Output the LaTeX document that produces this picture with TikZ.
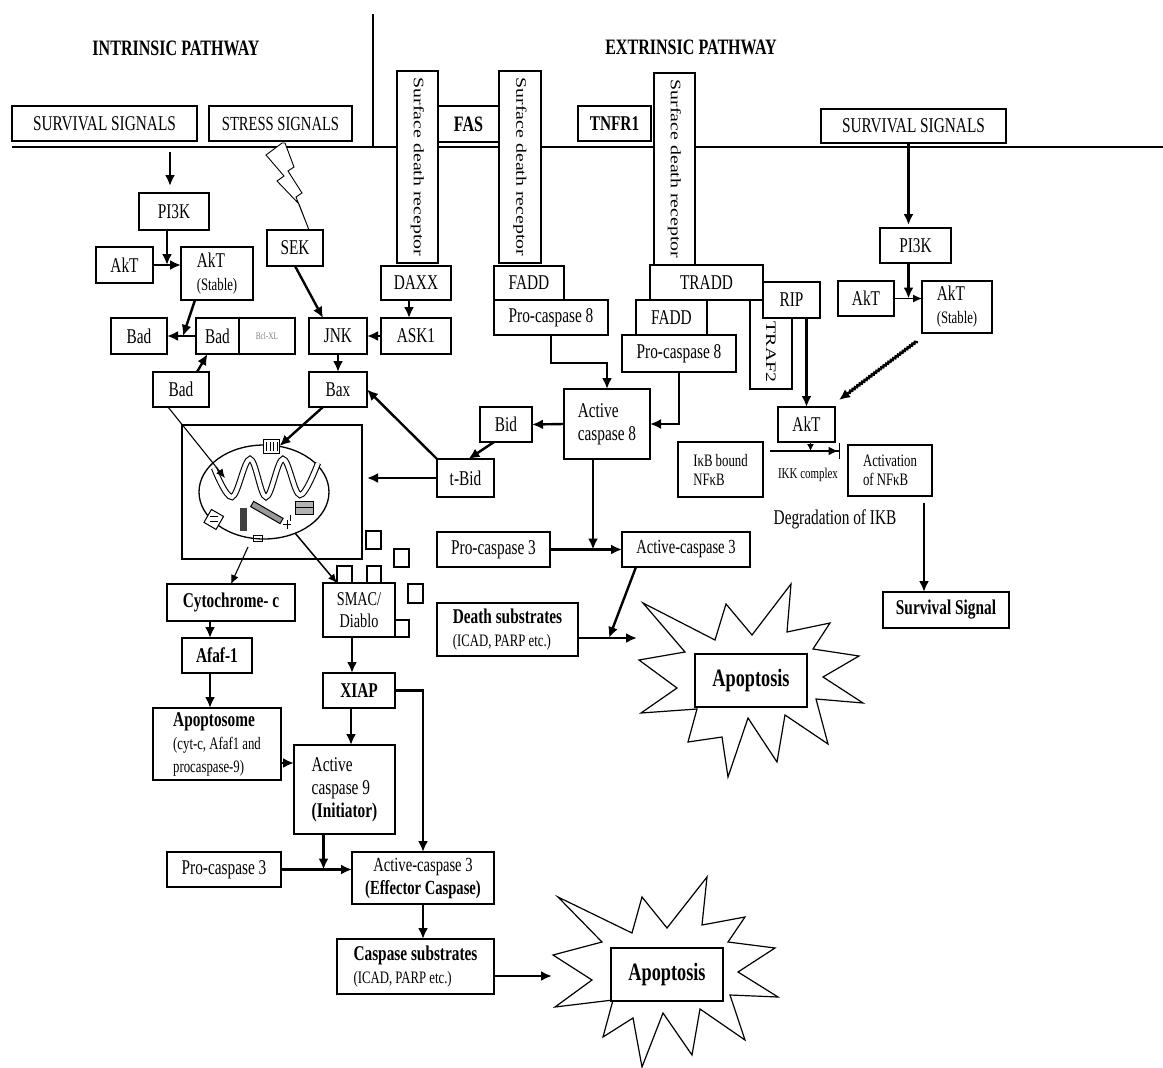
\documentclass[tikz,border=0pt]{standalone}
\usepackage{fontspec}
\setmainfont{Liberation Serif}[FakeStretch=0.73]
\newfontfamily\rotfont{Liberation Serif}[FakeStretch=1.37]
\usetikzlibrary{arrows.meta,fit,decorations.pathmorphing}
\newcommand\fN{\fontsize{21}{23}\selectfont}
\newcommand\fS{\fontsize{17.5}{19}\selectfont}
\newcommand\mybox[7][]{\node[bx,#1,minimum width={(#5)-(#3)}, minimum height={(#6)-(#4)}] (#2) at ({((#3)+(#5))/2},{((#4)+(#6))/2}) {#7};}
\begin{document}
\begin{tikzpicture}[x=1pt,y=-1pt,
  bx/.style={draw, line width=1.4pt, inner sep=0pt, outer sep=0pt, fill=white, align=center, font=\fN},
  rot/.style={rotate=-90, inner sep=0pt, font=\rotfont\fontsize{14.5}{16}\selectfont},
  arr/.style={line width=2.4pt, -{Latex[length=11pt,width=10pt]}},
  tarr/.style={line width=1.1pt, -{Latex[length=9pt,width=8pt]}},
  sarr/.style={line width=1.2pt, -{Latex[length=7pt,width=7pt]}},
  ikkarr/.style={line width=2.4pt, -{Latex[length=10pt,width=9pt]Bar[width=16pt,line width=1.5pt]}},
  burst/.style={line width=1.2pt, fill=white},
  title/.style={font=\fontsize{22}{24}\selectfont\bfseries},
]
\fill[white] (0,0) rectangle (1163,1068);
\useasboundingbox (0,0) rectangle (1163,1068);

% titles and membrane
\node[title] (intr) at (176,48) {INTRINSIC PATHWAY};
\node[title] (extr) at (691,47) {EXTRINSIC PATHWAY};
\draw[line width=2.2pt] (373,14) -- (373,147);
\draw[line width=1.6pt] (12,147) -- (1163,147);

% top boxes
\mybox{ssL}{12}{106}{197}{141}{SURVIVAL SIGNALS}
\mybox[font=\fontsize{20}{22}\selectfont]{stress}{209}{106}{352}{141}{STRESS SIGNALS}
\mybox[font=\fontsize{22}{24}\selectfont\bfseries]{fas}{438}{106}{499}{142}{FAS}
\mybox[font=\fontsize{21}{23}\selectfont\bfseries]{tnfr}{578}{106}{651}{141}{TNFR1}
\mybox{rec1}{397}{71}{438}{263}{}
\node[rot] (rec1t) at (rec1.center) {Surface death receptor};
\mybox{rec2}{499}{71}{541}{263}{}
\node[rot] (rec2t) at (rec2.center) {Surface death receptor};
\mybox{rec3}{654}{73}{695}{265}{}
\node[rot] (rec3t) at (rec3.center) {Surface death receptor};
\mybox{ssR}{821}{109}{1006}{143}{SURVIVAL SIGNALS}

% lightning
\draw[line width=0.9pt, fill=white] (282,143) -- (266,155) -- (284,176) -- (277,181) -- (299,204) -- (309,230)
  -- (296,197) -- (302,193) -- (288,171) -- (294,167) -- (285,143) -- cycle;

% intrinsic upper
\mybox{pi3kL}{139}{193}{209}{230}{PI3K}
\mybox{aktL}{96}{247}{153}{283}{AkT}
\mybox[align=left]{akts}{181}{247}{253}{300}{AkT\\{\fS(Stable)}}
\mybox{badL}{111}{318}{167}{354}{Bad}
\mybox{badM}{196}{318}{239}{354}{Bad}
\mybox[font=\fontsize{10}{11}\selectfont, text=gray]{bcl}{239}{318}{295}{354}{Bcl-XL}
\mybox{badB}{153}{372}{209}{407}{Bad}
\mybox{sek}{267}{230}{323}{266}{SEK}
\mybox{jnk}{309}{318}{367}{354}{JNK}
\mybox{bax}{309}{372}{367}{407}{Bax}
\mybox{daxx}{381}{266}{451}{300}{DAXX}
\mybox{ask1}{381}{318}{451}{354}{ASK1}

% extrinsic
\mybox{fadd1}{494}{266}{564}{300}{FADD}
\mybox{pc8a}{494}{300}{608}{335}{Pro-caspase 8}
\mybox{traf2}{750}{300}{792}{389}{}
\node[rot] (traf2t) at (771,352) {TRAF2};
\mybox{tradd}{650}{265}{763}{300}{TRADD}
\mybox{rip}{763}{282}{820}{318}{RIP}
\mybox{fadd2}{636}{300}{707}{335}{FADD}
\mybox{pc8b}{622}{335}{736}{372}{Pro-caspase 8}
\mybox[align=left]{ac8}{564}{389}{650}{459}{Active\\caspase 8}
\mybox{bid}{480}{407}{532}{442}{Bid}
\mybox{tbid}{437}{459}{494}{497}{t-Bid}
\mybox{pc3a}{437}{532}{550}{567}{Pro-caspase 3}
\mybox[font=\fontsize{20}{22}\selectfont]{ac3a}{622}{532}{750}{567}{Active-caspase 3}
\mybox[align=left]{ds}{437}{603}{578}{656}{\textbf{Death substrates}\\{\fS(ICAD, PARP etc.)}}

% mitochondrion
\mybox[fill=none]{mito}{182}{425}{362}{559}{}
\draw[line width=1.3pt] (264,492) ellipse [x radius=65, y radius=47];
\draw[line width=1.1pt, double, double distance=4pt] plot[smooth, tension=0.6]
  coordinates {(214,468) (232,497) (250,459) (266,497) (283,459) (300,495) (318,463)};
\node[draw, fill=white, line width=1pt, minimum width=16pt, minimum height=14pt, inner sep=0pt] (chan) at (271,446) {};
\draw[line width=1pt] (266,442) -- (266,451) (270,442) -- (270,451) (273,442) -- (273,451) (277,442) -- (277,451);
\draw[line width=1pt, fill=white, rotate around={-30:(214,519)}] (207,512) rectangle (221,527);
\draw[line width=0.8pt] (210,516) -- (218,516) (210,521) -- (218,521);
\fill[black!75] (240,508) rectangle (247,531);
\draw[line width=1pt, fill=black!40, rotate around={-30:(266,512)}] (250,509) rectangle (284,515);
\draw[line width=1pt, fill=black!30] (295,501) rectangle (313,507);
\draw[line width=1pt, fill=black!30] (295,507) rectangle (313,514);
\draw[line width=0.9pt] (283,524) -- (291,524) (287,520) -- (287,529) (290,515) -- (290,521);
\draw[line width=0.9pt] (253,535) rectangle (262,541);

% small squares
\draw[line width=1.2pt] (366,531) rectangle (381,549);
\draw[line width=1.2pt] (394,549) rectangle (409,567);
\draw[line width=1.2pt] (337,566) rectangle (352,583);
\draw[line width=1.2pt] (367,566) rectangle (381,583);
\draw[line width=1.2pt] (408,584) rectangle (423,603);
\draw[line width=1.2pt] (394,620) rectangle (409,637);

% lower intrinsic
\mybox[font=\fontsize{21}{23}\selectfont\bfseries]{cyto}{167}{584}{295}{621}{Cytochrome- c}
\mybox[font=\fN\bfseries]{afaf}{182}{638}{252}{673}{Afaf-1}
\mybox[font=\fontsize{19.5}{22}\selectfont]{smac}{323}{583}{395}{637}{SMAC/\\Diablo}
\mybox[font=\fN\bfseries]{xiap}{323}{673}{395}{708}{XIAP}
\mybox[align=left]{apsome}{153}{708}{281}{780}{\textbf{Apoptosome}\\{\fS(cyt-c, Afaf1 and}\\{\fS procaspase-9)}}
\mybox[align=left]{ac9}{294}{745}{395}{834}{Active\\caspase 9\\\textbf{(Initiator)}}
\mybox{pc3b}{167}{852}{281}{887}{Pro-caspase 3}
\mybox[font=\fontsize{20}{23}\selectfont]{ac3b}{352}{852}{494}{904}{Active-caspase 3\\\textbf{(Effector Caspase)}}
\mybox[align=left]{csub}{337}{939}{494}{994}{\textbf{Caspase substrates}\\{\fS(ICAD, PARP etc.)}}

% right side
\mybox{pi3kR}{880}{228}{951}{263}{PI3K}
\mybox{aktR}{838}{281}{894}{316}{AkT}
\mybox[align=left]{aktsR}{922}{281}{992}{333}{AkT\\{\fS(Stable)}}
\mybox{aktLow}{778}{407}{835}{442}{AkT}
\mybox[font=\fS, align=left]{ikb}{678}{442}{763}{497}{IκB bound\\NFκB}
\mybox[font=\fS, align=left]{act}{848}{445}{932}{496}{Activation\\ of NFκB}
\node[font=\fN] (degr) at (835,519) {Degradation of IKB};
\node[font=\fontsize{15}{16}\selectfont] (ikk) at (808,475) {IKK complex};
\mybox[font=\fN\bfseries]{surv}{883}{592}{1009}{628}{Survival Signal}

% starbursts
\draw[burst] (643,603) -- (715,640) -- (726,604) -- (752,635) -- (791,584) -- (787,632) -- (830,623) -- (813,649)
  -- (859,656) -- (823,677) -- (863,703) -- (816,699) -- (828,744) -- (785,715) -- (777,762) -- (748,718)
  -- (728,777) -- (722,737) -- (688,742) -- (697,709) -- (641,713) -- (677,688) -- (639,660) -- (685,652) -- cycle;
\mybox[font=\fontsize{25}{27}\selectfont\bfseries]{apo1}{695}{654}{807}{707}{Apoptosis}
\draw[burst] (558,897) -- (632,933) -- (642,897) -- (667,928) -- (707,877) -- (702,925) -- (745,917) -- (728,942)
  -- (775,948) -- (738,972) -- (778,997) -- (730,995) -- (745,1040) -- (700,1009) -- (692,1055) -- (663,1013)
  -- (642,1067) -- (633,1018) -- (603,1037) -- (613,1000) -- (555,1007) -- (592,980) -- (553,955) -- (602,942) -- cycle;
\mybox[font=\fontsize{25}{27}\selectfont\bfseries]{apo2}{611}{948}{723}{1001}{Apoptosis}

% connectors: intrinsic
\draw[arr, shorten <=11pt, shorten >=7pt] ([xshift=-4pt]ssL.south -| pi3kL.north) -- ([xshift=-4pt]pi3kL.north);
\draw[arr] ([xshift=-7pt]pi3kL.south) -- ([xshift=-7pt]pi3kL.south |- aktL.east);
\draw[arr] (aktL.east) -- (akts.west |- aktL.east);
\draw[arr] ([xshift=-22pt]akts.south) -- ([xshift=16pt]badL.east);
\draw[arr] (badM.west) -- (badL.east);
\draw[arr] ([xshift=16pt]badB.north) -- ([xshift=-10pt]badM.south);
\coordinate (m1) at (225,478);
\draw[tarr] ([xshift=-13pt]badB.south) -- (m1);
\draw[arr] (sek.south) -- ([xshift=-15pt]jnk.north);
\draw[arr] (jnk.south) -- (bax.north);
\draw[arr] ([xshift=-7pt]daxx.south) -- ([xshift=-7pt]ask1.north);
\draw[arr] (ask1.west) -- (jnk.east);
\draw[arr] ([xshift=-15pt]bax.south) -- (chan.east);
\draw[arr] (tbid.north west) -- (bax.east);
\draw[arr] (tbid.west) -- ([xshift=5pt]tbid.west -| mito.east);
\draw[arr] ([xshift=-12pt]bid.south) -- ([xshift=3pt]tbid.north);
\draw[arr] (ac8.west) -- (bid.east);
\draw[arr] (pc8a.south) -- ++(0,28) -| (ac8.north);
\draw[arr] (pc8b.south) |- (ac8.east);
\draw[arr] ([xshift=-14pt]ac8.south) -- ([xshift=-14pt]ac8.south |- pc3a.east);
\draw[arr] (pc3a.east) -- (ac3a.west);
\coordinate (j1) at (609,638);
\coordinate (apo1tip) at (637,638);
\draw[arr] ([xshift=-50pt]ac3a.south) -- (j1);
\draw[arr] (ds.east |- j1) -- (apo1tip);
\coordinate (mc) at (248,547);
\coordinate (ms) at (295,533);
\draw[tarr] (mc) -- (cyto.north);
\draw[tarr, line width=1.5pt] (ms) -- ([xshift=-22pt]smac.north);
\draw[arr] ([xshift=-7pt]afaf.north |- cyto.south) -- ([xshift=-7pt]afaf.north);
\draw[arr] ([xshift=-7pt]afaf.south) -- ([xshift=-7pt]afaf.south |- apsome.north);
\draw[arr] ([xshift=-7pt]smac.south) -- ([xshift=-7pt]xiap.north);
\draw[arr] ([xshift=-8pt]xiap.south) -- ([xshift=-8pt]xiap.south |- ac9.north);
\draw[arr] ([yshift=-19pt]apsome.east) -- ([yshift=-19pt]apsome.east -| ac9.west);
\draw[arr] (xiap.east) -| (ac3b.north);
\draw[arr] ([xshift=-21pt]ac9.south) -- ([xshift=-21pt]ac9.south |- pc3b.east);
\draw[arr] (pc3b.east) -- (pc3b.east -| ac3b.west);
\draw[arr] (ac3b.south) -- (ac3b.south |- csub.north);
\coordinate (apo2tip) at (552,976);
\draw[arr] (csub.east |- apo2tip) -- (apo2tip);

% connectors: right side
\draw[arr] ([xshift=-7pt]pi3kR.north |- ssR.south) -- ([xshift=-7pt,yshift=3pt]pi3kR.north);
\draw[arr] ([xshift=-7pt]pi3kR.south) -- ([xshift=-7pt]pi3kR.south |- aktR.east);
\draw[tarr] (aktR.east) -- (aktsR.west |- aktR.east);
\draw[line width=2.4pt, -{Latex[length=11pt,width=10pt]}, decorate,
  decoration={zigzag, amplitude=0.7pt, segment length=3pt, post length=12pt}]
  ([shift={(-40pt,-8pt)}]aktsR.south) -- ([shift={(4pt,7pt)}]aktLow.north east);
\draw[arr] (aktLow.north |- rip.south) -- (aktLow.north);
\draw[ikkarr] ([shift={(7pt,18.5pt)}]ikb.east) -- ([shift={(-8pt,19.5pt)}]act.west);
\draw[sarr] ([xshift=4pt]aktLow.south) -- ++(0,9);
\draw[arr] ([xshift=34pt,yshift=-7pt]act.south) -- ([xshift=34pt]act.south |- surv.north);
\end{tikzpicture}
\end{document}
